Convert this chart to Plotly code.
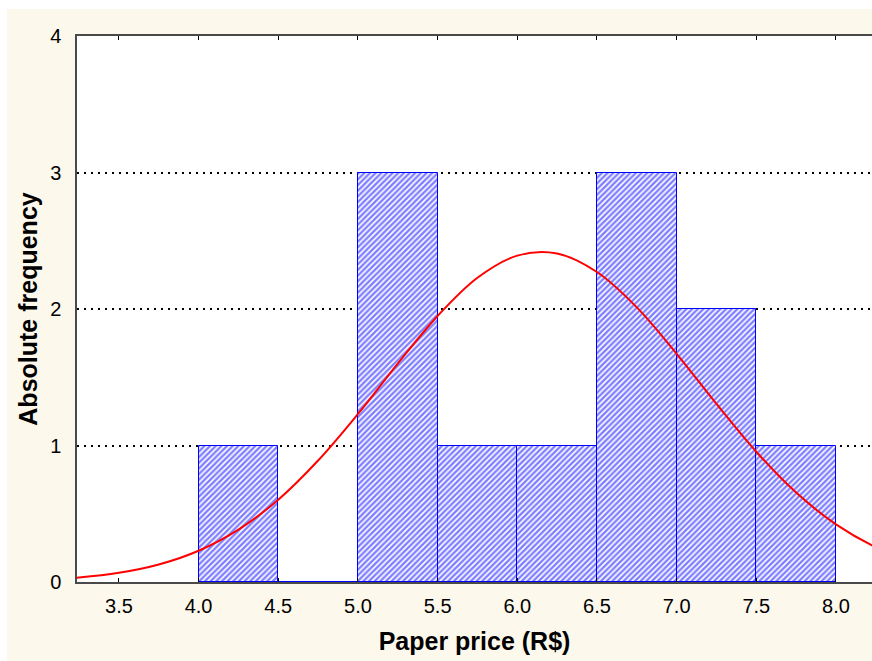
import plotly.graph_objects as go

# Histogram of paper prices (bin width 0.5)
bin_centers = [4.25, 4.75, 5.25, 5.75, 6.25, 6.75, 7.25, 7.75]
counts = [1, 0, 3, 1, 1, 3, 2, 1]
bin_width = 0.5

# Fitted normal curve, sampled points (expected frequency)
curve_x = [3.0, 3.25, 3.5, 3.75, 4.0, 4.25, 4.5, 4.75, 5.0, 5.25, 5.5, 5.75,
           6.0, 6.25, 6.5, 6.75, 7.0, 7.25, 7.5, 7.75, 8.0, 8.25, 8.5]
curve_y = [0.015, 0.033, 0.067, 0.128, 0.229, 0.384, 0.603, 0.890, 1.231, 1.600,
           1.949, 2.229, 2.391, 2.406, 2.271, 2.012, 1.672, 1.305, 0.954, 0.655,
           0.422, 0.255, 0.144]

x_ticks = [3.5, 4.0, 4.5, 5.0, 5.5, 6.0, 6.5, 7.0, 7.5, 8.0]
x_tick_text = ["3.5", "4.0", "4.5", "5.0", "5.5", "6.0", "6.5", "7.0", "7.5", "8.0"]
y_ticks = [0, 1, 2, 3, 4]

FONT = "Arial, Liberation Sans, sans-serif"
AXIS_COLOR = "#4a4a4a"

fig = go.Figure()

fig.add_trace(go.Bar(
    x=bin_centers,
    y=counts,
    width=[bin_width] * len(bin_centers),
    marker=dict(
        color="white",
        line=dict(color="#0000ff", width=1),
        pattern=dict(shape="/", fgcolor="#0000ff", bgcolor="white",
                     size=4, solidity=0.6),
    ),
    showlegend=False,
))

fig.add_trace(go.Scatter(
    x=curve_x,
    y=curve_y,
    mode="lines",
    line=dict(color="#ff0000", width=2, shape="spline"),
    showlegend=False,
))

fig.update_layout(
    width=872,
    height=661,
    margin=dict(l=77, r=0, t=36, b=79),
    paper_bgcolor="#fdf8ec",
    plot_bgcolor="white",
    bargap=0,
    font=dict(family=FONT, color="black", size=20),
    shapes=[
        # white strips along the top and left page edges
        dict(type="rect", xref="paper", yref="paper", x0=-0.2, x1=1.2,
             y0=1.0495, y1=1.3, fillcolor="white", line=dict(width=0),
             layer="above"),
        dict(type="rect", xref="paper", yref="paper", x0=-0.2, x1=-0.0881,
             y0=-0.3, y1=1.3, fillcolor="white", line=dict(width=0),
             layer="above"),
    ],
)

fig.update_xaxes(
    range=[3.237, 8.226],
    tickvals=x_ticks,
    ticktext=x_tick_text,
    ticks="inside",
    ticklen=4,
    tickwidth=1,
    tickcolor="black",
    showline=True,
    linecolor=AXIS_COLOR,
    linewidth=1.5,
    mirror="allticks",
    showgrid=False,
    zeroline=False,
    tickfont=dict(size=20),
    ticklabelstandoff=5,
    title=dict(text="<b>Paper price (R$)</b>", font=dict(size=25), standoff=17),
)

fig.update_yaxes(
    range=[0, 4],
    tickvals=y_ticks,
    ticks="",
    showline=True,
    linecolor=AXIS_COLOR,
    linewidth=1.5,
    showgrid=True,
    gridcolor="black",
    gridwidth=1.5,
    griddash="2px,5px",
    zeroline=False,
    tickfont=dict(size=20),
    ticklabelstandoff=10,
    title=dict(text="<b>Absolute frequency</b>", font=dict(size=25), standoff=5),
)

fig.write_html("out.html")
